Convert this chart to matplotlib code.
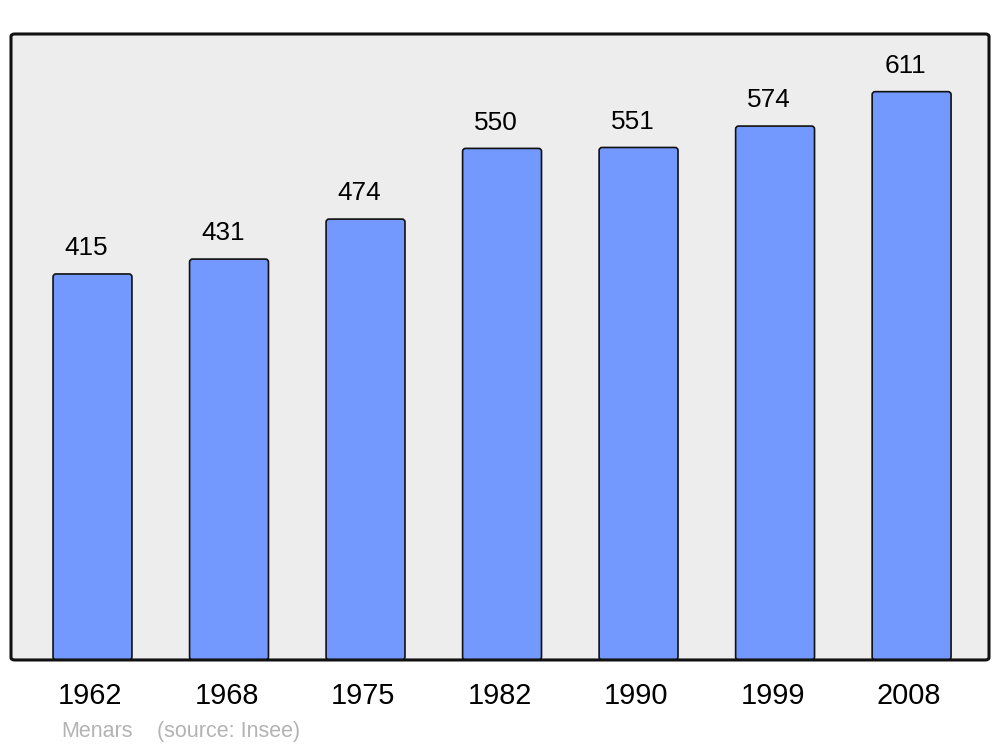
import matplotlib
matplotlib.use("Agg")
import matplotlib.pyplot as plt
import matplotlib.transforms as mtransforms
from matplotlib.patches import FancyBboxPatch

years = ["1962", "1968", "1975", "1982", "1990", "1999", "2008"]
population = [415, 431, 474, 550, 551, 574, 611]
commune = "Menars"
source = "(source: Insee)"

plt.rcParams['font.family'] = ['Liberation Sans', 'DejaVu Sans']

fig = plt.figure(figsize=(10, 7.47), dpi=100)
ax = fig.add_axes([0.011, 0.1165, 0.978, 0.838])
ax.set_xlim(-0.597, 6.567)
ax.set_ylim(0, 673)
ax.patch.set_visible(False)
for s in ax.spines.values():
    s.set_visible(False)

bg = FancyBboxPatch((0, 0), 1, 1, boxstyle="round,pad=0,rounding_size=0.004",
                    transform=ax.transAxes, facecolor="#ededed", edgecolor="none",
                    zorder=0, clip_on=False)
ax.add_patch(bg)
frame = FancyBboxPatch((0, 0), 1, 1, boxstyle="round,pad=0,rounding_size=0.004",
                       transform=ax.transAxes, facecolor="none", edgecolor="#111111",
                       linewidth=2.2, zorder=5, clip_on=False)
ax.add_patch(frame)

x = list(range(len(years)))
bars = ax.bar(x, population, width=0.578, color="#7399ff", edgecolor="#111111",
              linewidth=1.2, zorder=2)
# replace with rounded-corner versions of the same geometry
for r in bars.patches:
    r.set_visible(False)
    fb = FancyBboxPatch((r.get_x(), r.get_y()), r.get_width(), r.get_height(),
                        boxstyle="round,pad=0,rounding_size=0.022",
                        mutation_aspect=150, facecolor="#7399ff",
                        edgecolor="#111111", linewidth=1.2, zorder=2)
    ax.add_patch(fb)

for xi, v in zip(x, population):
    ax.annotate(str(v), (xi, v), xytext=(-4.5, 13.5), textcoords="offset points",
                ha="center", va="baseline", fontsize=18.8, color="black")

ax.set_xticks(x)
ax.set_xticklabels(years, fontsize=20.8)
ax.tick_params(axis='x', length=0, pad=16)
ax.set_yticks([])
shift = mtransforms.ScaledTranslation(-2.5 / 100, 0, fig.dpi_scale_trans)
for lbl in ax.get_xticklabels():
    lbl.set_transform(lbl.get_transform() + shift)

fig.text(0.061, 0.0134, commune, fontsize=15.5, color="#b3b3b3", va="baseline", ha="left")
fig.text(0.157, 0.0134, source, fontsize=15.5, color="#b3b3b3", va="baseline", ha="left")

fig.savefig("out.png", dpi=100)
